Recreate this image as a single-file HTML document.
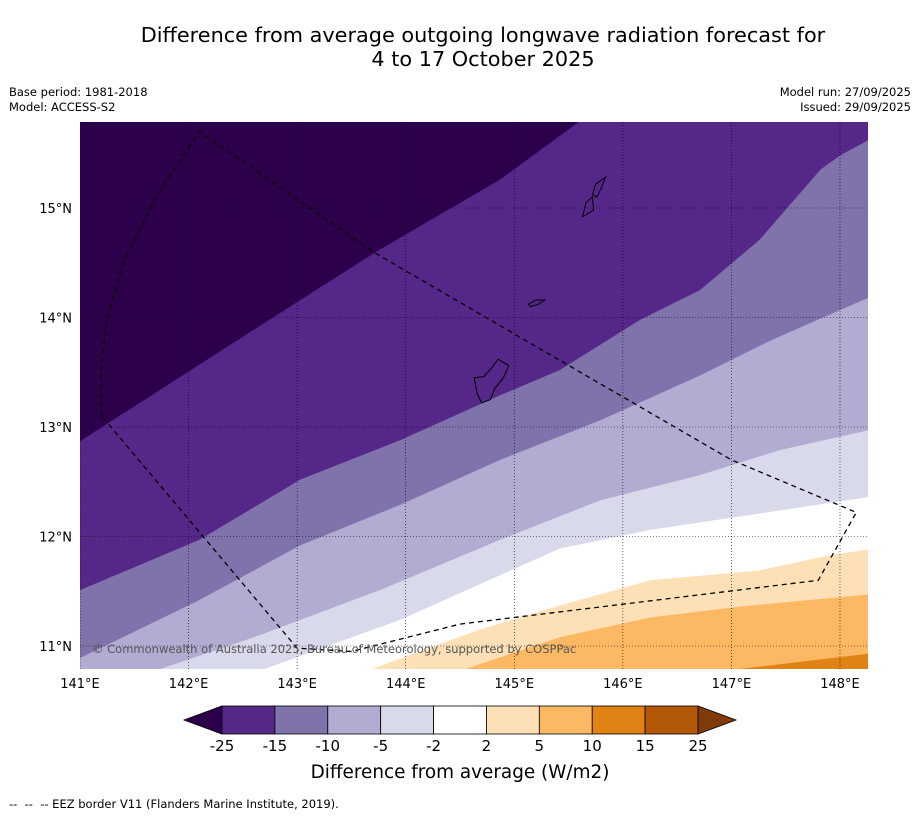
<!DOCTYPE html>
<html><head><meta charset="utf-8"><style>
body{margin:0;background:#fff;font-family:"DejaVu Sans",sans-serif;}
.t{position:absolute;}
svg text{font-family:"DejaVu Sans",sans-serif;}
</style></head><body>
<div style="position:relative;width:919px;height:816px;overflow:hidden">
<div class="t" style="left:0;width:966px;top:23px;text-align:center;font-size:20.8px;line-height:24px;color:#000">Difference from average outgoing longwave radiation forecast for<br>4 to 17 October 2025</div>
<div class="t" style="left:9px;top:85px;font-size:11.5px;line-height:15px">Base period: 1981-2018<br>Model: ACCESS-S2</div>
<div class="t" style="right:8px;top:85px;font-size:11.5px;line-height:15px;text-align:right">Model run: 27/09/2025<br>Issued: 29/09/2025</div>
<div class="t" style="left:9px;top:797px;font-size:11.5px">--&nbsp; --&nbsp; -- EEZ border V11 (Flanders Marine Institute, 2019).</div>
<svg id="s" width="919" height="816" style="position:absolute;left:0;top:0"></svg>
</div>
<script>
const NS="http://www.w3.org/2000/svg";
const colors=["#2d004b","#542788","#8073ac","#b2abd2","#d8daeb","#ffffff","#fee0b6","#fdb863","#e08214","#b35806","#7f3b08"];
const levels=[-25,-15,-10,-5,-2,2,5,10,15,25];
const c_m25_m15=[[141,12.87],[142.1,13.57],[143.03,14.16],[143.76,14.62],[144.87,15.26],[145.6,15.79],[146.2,16.3],[148.3,16.3]];
const c_m15_m10=[[141,11.51],[142.1,11.97],[143.03,12.52],[143.95,12.88],[144.87,13.29],[145.42,13.52],[146.16,13.98],[146.71,14.25],[147.26,14.71],[147.82,15.35],[148,15.48],[148.26,15.62]];
const c_m10_m5=[[141,10.89],[142.1,11.42],[143.03,11.92],[143.95,12.29],[144.87,12.70],[145.79,13.06],[146.71,13.47],[147.36,13.79],[148.26,14.18]];
const c_m5_m2=[[141,10.79],[141.74,10.79],[142.66,11.10],[143.76,11.51],[144.87,11.97],[145.79,12.33],[146.71,12.56],[147.45,12.79],[148.26,12.97]];
const c_m2_p2=[[142.70,10.79],[143.95,11.24],[145.42,11.89],[146.25,12.06],[147.26,12.21],[148.26,12.36]];
const c_p2_p5=[[143.69,10.79],[144.68,11.15],[145.42,11.37],[146.25,11.60],[147.26,11.69],[147.91,11.83],[148.26,11.88]];
const c_p5_p10=[[144.55,10.79],[145.42,11.08],[146.25,11.26],[147.08,11.36],[148.26,11.47]];
const c_p10_p15=[[147.08,10.79],[148.26,10.93]];
const contours=[c_m25_m15,c_m15_m10,c_m10_m5,c_m5_m2,c_m2_p2,c_p2_p5,c_p5_p10,c_p10_p15];
const eez=[[141.2,13.1],[141.19,13.5],[141.25,14.0],[141.4,14.5],[141.7,15.1],[142.1,15.7],[143.7,14.6],[145.0,13.85],[147.0,12.7],[148.15,12.22],[147.8,11.6],[144.5,11.2],[143.5,10.95],[143.0,10.98],[141.2,13.1]];
const islands=[[[144.63,13.45],[144.72,13.46],[144.8,13.55],[144.85,13.62],[144.95,13.56],[144.9,13.45],[144.82,13.35],[144.78,13.25],[144.7,13.22],[144.66,13.3]],[[145.13,14.12],[145.2,14.16],[145.28,14.16],[145.22,14.12],[145.15,14.1]],[[145.63,14.92],[145.66,15.05],[145.72,15.1],[145.73,14.98],[145.68,14.95]],[[145.72,15.12],[145.75,15.22],[145.84,15.28],[145.8,15.18],[145.76,15.1]]];
const lonTicks=[141,142,143,144,145,146,147,148];
const latTicks=[11,12,13,14,15];
const L=80,R=868,T=122,B=669;
const X=lon=>80+(lon-141)*108.57;
const Y=lat=>208-(lat-15)*109.5;
const s=document.getElementById('s');
function mk(t,a,p){const e=document.createElementNS(NS,t);for(const k in a)e.setAttribute(k,a[k]);(p||s).appendChild(e);return e;}
const defs=mk('defs',{});const cp=mk('clipPath',{id:'cp'},defs);mk('rect',{x:L,y:T,width:R-L,height:B-T},cp);
const g=mk('g',{'clip-path':'url(#cp)'});
let r=mk('rect',{x:L,y:T,width:R-L,height:B-T,fill:colors[0]},g);

contours.forEach((c,i)=>{
 let pts=c.map(p=>X(p[0])+','+Y(p[1]));
 pts.push((R+20)+','+(B+20));pts.push((L-20)+','+(B+20));pts.unshift((L-20)+','+Y(c[0][1]));
 const p=mk('polygon',{points:pts.join(' '),fill:colors[i+1]},g);
 
});
lonTicks.forEach(v=>{const l=mk('line',{x1:X(v),x2:X(v),y1:T,y2:B,stroke:'#000','stroke-width':0.6,'stroke-dasharray':'1,2'},g);
 
 const t=mk('text',{x:X(v),y:688,'text-anchor':'middle','font-size':13});t.textContent=v+'°E';
 });
latTicks.forEach(v=>{const l=mk('line',{x1:L,x2:R,y1:Y(v),y2:Y(v),stroke:'#000','stroke-width':0.6,'stroke-dasharray':'1,2'},g);
 
 const t=mk('text',{x:72,y:Y(v)+5,'text-anchor':'end','font-size':13});t.textContent=v+'°N';
 });
islands.forEach(isl=>{const p=mk('polygon',{points:isl.map(q=>X(q[0])+','+Y(q[1])).join(' '),fill:'none',stroke:'#000','stroke-width':1},g);
 });
const e=mk('polyline',{points:eez.map(q=>X(q[0])+','+Y(q[1])).join(' '),fill:'none',stroke:'#000','stroke-width':1.3,'stroke-dasharray':'5,4'},g);

const cr=mk('text',{x:92,y:653,'font-size':11.5,fill:'#555'},g);cr.textContent='© Commonwealth of Australia 2025, Bureau of Meteorology, supported by COSPPac';

const cbL=222,cbR=698,cbT=706,cbB=734,w=(cbR-cbL)/(levels.length-1);
let tri=mk('polygon',{points:`${cbL},${cbT} ${cbL},${cbB} 184,${(cbT+cbB)/2}`,fill:colors[0],stroke:'#000','stroke-width':0.8});

tri=mk('polygon',{points:`${cbR},${cbT} ${cbR},${cbB} 736,${(cbT+cbB)/2}`,fill:colors[10],stroke:'#000','stroke-width':0.8});

for(let i=0;i<levels.length-1;i++){const b=mk('rect',{x:cbL+i*w,y:cbT,width:w,height:cbB-cbT,fill:colors[i+1],stroke:'#000','stroke-width':0.8});
 }
levels.forEach((v,i)=>{const t=mk('text',{x:cbL+i*w,y:751,'text-anchor':'middle','font-size':15});t.textContent=v;
 });
const ct=mk('text',{x:460,y:778,'text-anchor':'middle','font-size':18.4});ct.textContent='Difference from average (W/m2)';

</script>
</body></html>
